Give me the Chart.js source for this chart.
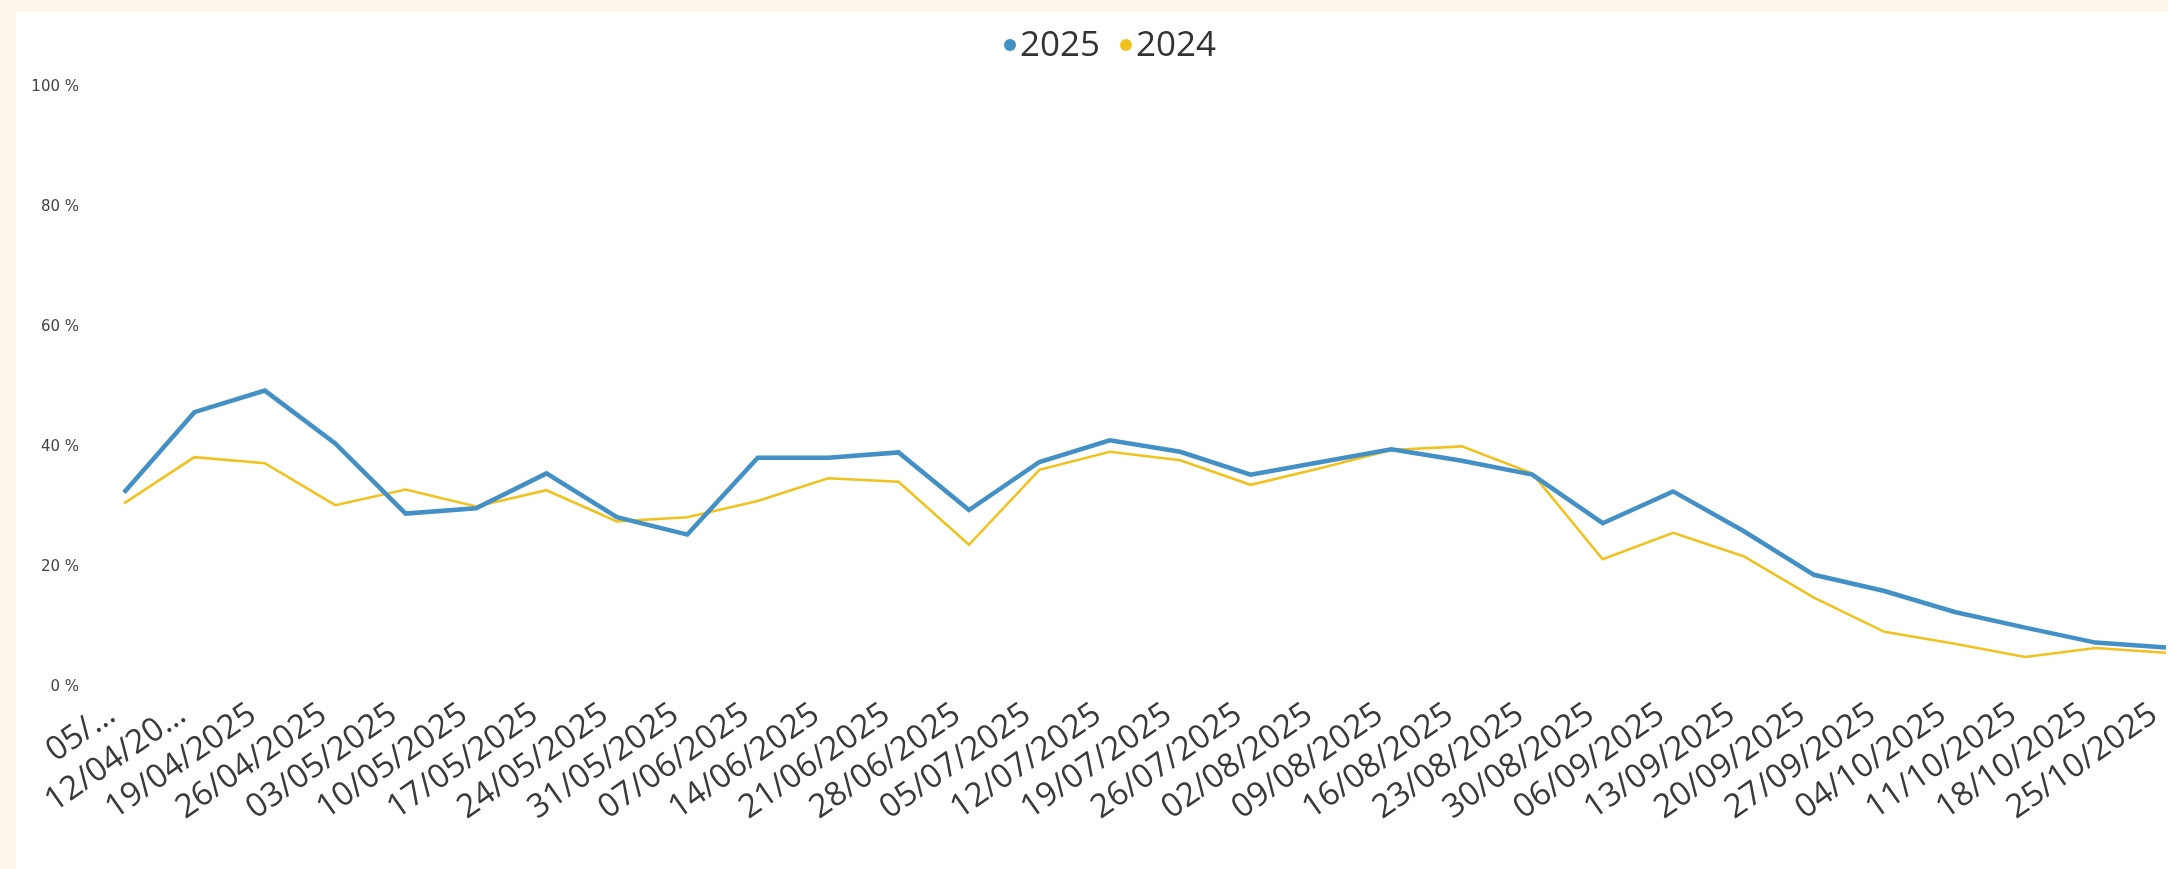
<!DOCTYPE html>
<html lang="es">
<head>
<meta charset="utf-8">
<title>2025 vs 2024</title>
<script src="https://cdn.jsdelivr.net/npm/chart.js@4.4.1/dist/chart.umd.min.js"></script>
<style>
    html, body { margin: 0; padding: 0; background: #fdf6ea; }
    #contenedor { position: relative; width: 2168px; height: 869px; }
    #leyenda {
        position: absolute; top: 25px; left: 1004px;
        display: flex; align-items: center;
        font-family: 'Open Sans', sans-serif; font-size: 35px; line-height: 1; color: #333333;
    }
    #leyenda .item { display: flex; align-items: center; margin-right: 20px; }
    #leyenda .punto { width: 12px; height: 12px; border-radius: 50%; margin-right: 4px; margin-top: 4px; }
</style>
</head>
<body>
<div id="contenedor">
    <canvas id="chart1" width="2168" height="869"></canvas>
    <div id="leyenda"></div>
</div>
<script>
// Semanas (tal como aparecen en el eje, las dos primeras vienen recortadas)
const semanas = [
    '05/…', '12/04/20…', '19/04/2025', '26/04/2025', '03/05/2025', '10/05/2025',
    '17/05/2025', '24/05/2025', '31/05/2025', '07/06/2025', '14/06/2025', '21/06/2025',
    '28/06/2025', '05/07/2025', '12/07/2025', '19/07/2025', '26/07/2025', '02/08/2025',
    '09/08/2025', '16/08/2025', '23/08/2025', '30/08/2025', '06/09/2025', '13/09/2025',
    '20/09/2025', '27/09/2025', '04/10/2025', '11/10/2025', '18/10/2025', '25/10/2025'
];

// Porcentajes
const valores2025 = [
    32.4, 45.8, 49.4, 40.6, 28.9, 29.8, 35.6, 28.3, 25.4, 38.2,
    38.2, 39.1, 29.5, 37.5, 41.1, 39.2, 35.4, 37.5, 39.6, 37.7,
    35.4, 27.3, 32.6, 26.0, 18.7, 16.0, 12.5, 9.9, 7.4, 6.6
];
const valores2024 = [
    30.6, 38.3, 37.3, 30.3, 32.9, 30.1, 32.8, 27.6, 28.3, 31.0,
    34.8, 34.2, 23.7, 36.2, 39.2, 37.8, 33.7, 36.5, 39.5, 40.1,
    35.6, 21.3, 25.7, 21.8, 14.9, 9.2, 7.2, 5.0, 6.5, 5.7
];

// Marcas del eje Y
const ticksY = [0, 20, 40, 60, 80, 100];

// Fondo crema con el panel blanco encima
const fondo = {
    id: 'fondo',
    beforeDraw(chart) {
        const ctx = chart.ctx;
        ctx.save();
        ctx.fillStyle = '#fdf6ea';
        ctx.fillRect(0, 0, chart.width, chart.height);
        ctx.fillStyle = '#ffffff';
        ctx.fillRect(16, 12, chart.width - 16, chart.height - 12);
        ctx.restore();
    }
};

// Leyenda en HTML (punto pequeño pegado al texto, como en el original)
function createLegend(chart) {
    const cont = document.getElementById('leyenda');
    chart.data.datasets.forEach((ds) => {
        const item = document.createElement('div');
        item.className = 'item';
        const punto = document.createElement('span');
        punto.className = 'punto';
        punto.style.background = ds.borderColor;
        const texto = document.createElement('span');
        texto.textContent = ds.label;
        item.appendChild(punto);
        item.appendChild(texto);
        cont.appendChild(item);
    });
}

function createChart() {
    const ctx = document.getElementById('chart1').getContext('2d');
    const chartData = {
        labels: semanas,
        datasets: [
            {
                label: '2025',
                data: valores2025,
                borderColor: '#4290c6',
                backgroundColor: '#4290c6',
                borderWidth: 4.5,
                pointRadius: 0,
                tension: 0,
            },
            {
                label: '2024',
                data: valores2024,
                borderColor: '#f1c21f',
                backgroundColor: '#f1c21f',
                borderWidth: 2.6,
                pointRadius: 0,
                tension: 0,
            },
        ],
    };
    const chartOptions = {
        responsive: false,
        animation: false,
        layout: {
            padding: { top: 87, left: 0, right: 2, bottom: 0 },
        },
        plugins: {
            legend: { display: false },
            tooltip: { enabled: false },
        },
        scales: {
            x: {
                grid: { display: false, drawTicks: false },
                border: { display: false },
                ticks: {
                    autoSkip: false,
                    minRotation: 35,
                    maxRotation: 35,
                    padding: 8,
                    labelOffset: -12,
                    color: '#3a3a3a',
                    font: { family: 'Open Sans', size: 33 },
                },
                afterFit(scale) {
                    scale.height = 182;
                    scale.paddingRight = 0;
                    scale.paddingLeft = 0;
                },
            },
            y: {
                min: 0,
                max: 100,
                grid: { display: false, drawTicks: false },
                border: { display: false },
                afterBuildTicks(scale) {
                    scale.ticks = ticksY.map((v) => ({ value: v }));
                },
                ticks: {
                    padding: 45,
                    color: '#444444',
                    font: { family: 'DejaVu Sans', size: 15 },
                    callback: (v) => v + ' %',
                },
                afterFit(scale) {
                    scale.width = 124;
                },
            },
        },
    };

    const chart = new Chart(ctx, {
        type: 'line',
        data: chartData,
        options: chartOptions,
        plugins: [fondo],
    });
    createLegend(chart);
}

createChart();
</script>
</body>
</html>
